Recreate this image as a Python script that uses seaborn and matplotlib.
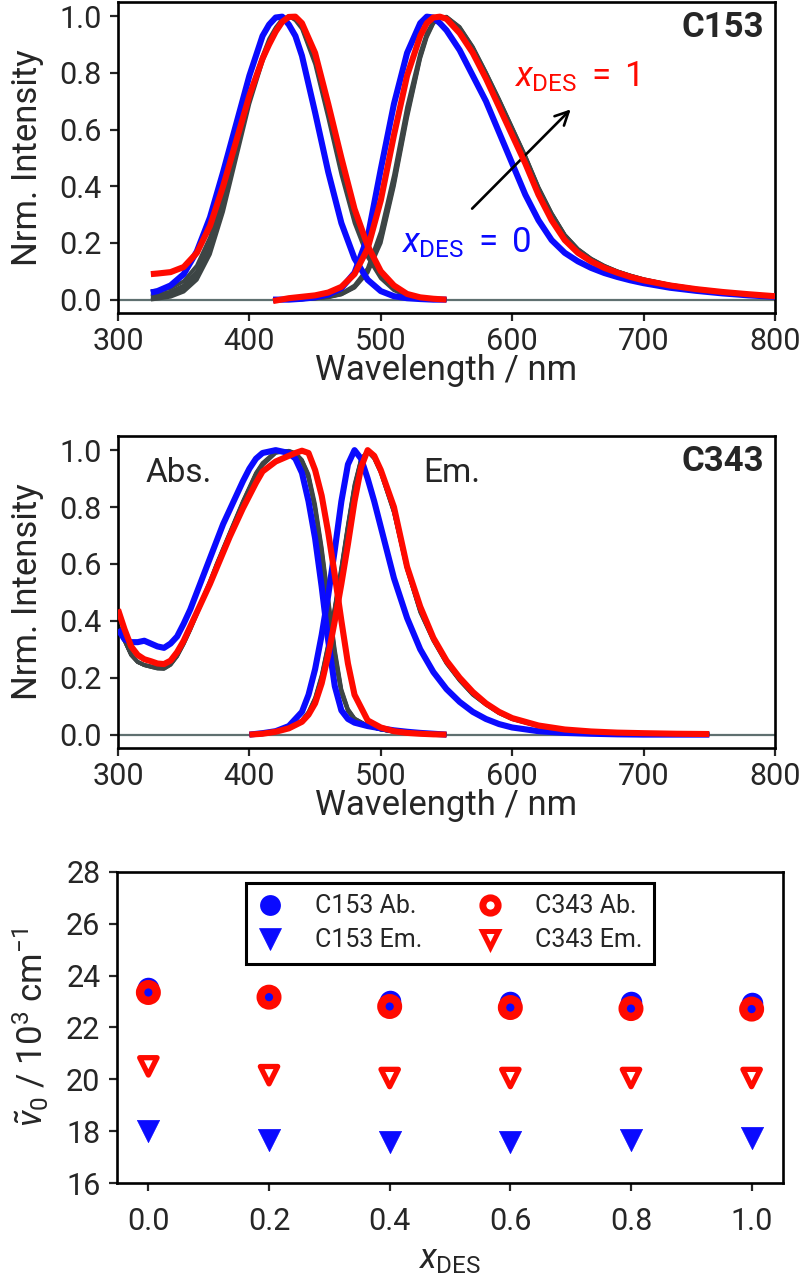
import numpy as np
import pandas as pd
import matplotlib
matplotlib.use("Agg")
import matplotlib.pyplot as plt
from matplotlib.lines import Line2D
import seaborn as sns

# ---------------- data ----------------
# C153 absorption
c153_abs_wl = [325, 330, 340, 350, 360, 370, 380, 390, 400, 410, 415, 420, 425, 430, 435,
               440, 450, 460, 470, 480, 490, 500, 510, 520, 530, 540, 550]
c153_abs_x00 = [0.025, 0.03, 0.05, 0.09, 0.17, 0.29, 0.45, 0.62, 0.79, 0.93, 0.97, 0.995, 0.998, 0.97, 0.93,
                0.86, 0.66, 0.45, 0.27, 0.145, 0.07, 0.03, 0.012, 0.005, 0.002, 0.0, 0.0]
c153_abs_x02 = [0.03, 0.032, 0.04, 0.065, 0.12, 0.22, 0.37, 0.55, 0.72, 0.86, 0.92, 0.96, 0.99, 1.0, 0.985,
                0.955, 0.83, 0.64, 0.44, 0.27, 0.15, 0.075, 0.033, 0.013, 0.005, 0.001, 0.0]
c153_abs_x04 = [0.015, 0.018, 0.028, 0.05, 0.10, 0.20, 0.35, 0.53, 0.71, 0.85, 0.91, 0.955, 0.985, 0.999, 0.99,
                0.96, 0.84, 0.655, 0.455, 0.285, 0.16, 0.08, 0.036, 0.014, 0.005, 0.001, 0.0]
c153_abs_x06 = [0.01, 0.012, 0.02, 0.04, 0.085, 0.18, 0.33, 0.52, 0.70, 0.845, 0.905, 0.95, 0.98, 0.998, 0.995,
                0.965, 0.85, 0.665, 0.465, 0.29, 0.165, 0.083, 0.038, 0.015, 0.005, 0.001, 0.0]
c153_abs_x08 = [0.0, 0.003, 0.01, 0.028, 0.07, 0.16, 0.31, 0.50, 0.69, 0.84, 0.90, 0.945, 0.978, 0.997, 0.997,
                0.97, 0.855, 0.675, 0.475, 0.30, 0.17, 0.087, 0.04, 0.016, 0.006, 0.001, 0.0]
c153_abs_x10 = [0.09, 0.092, 0.097, 0.115, 0.165, 0.26, 0.40, 0.56, 0.72, 0.85, 0.90, 0.945, 0.98, 0.997, 0.998,
                0.975, 0.87, 0.69, 0.50, 0.32, 0.19, 0.10, 0.05, 0.02, 0.008, 0.003, 0.0]

# C153 emission
c153_em_wl = [418, 430, 440, 450, 460, 470, 480, 490, 500, 510, 520, 530, 535, 540, 545, 550,
              560, 570, 580, 590, 600, 610, 620, 630, 640, 650, 660, 670, 680, 690, 700,
              720, 740, 760, 780, 800]
c153_em_x00 = [0.0, 0.0, 0.003, 0.008, 0.018, 0.04, 0.095, 0.22, 0.46, 0.69, 0.87, 0.975, 0.998, 0.995, 0.975, 0.95,
               0.88, 0.79, 0.70, 0.59, 0.48, 0.37, 0.28, 0.21, 0.165, 0.135, 0.112, 0.094, 0.08, 0.068, 0.058,
               0.042, 0.031, 0.022, 0.015, 0.01]
c153_em_x02 = [0.0, 0.0, 0.002, 0.005, 0.01, 0.022, 0.05, 0.11, 0.24, 0.44, 0.68, 0.87, 0.94, 0.98, 0.998, 0.995,
               0.955, 0.885, 0.795, 0.70, 0.60, 0.50, 0.39, 0.30, 0.225, 0.175, 0.142, 0.117, 0.098, 0.083, 0.07,
               0.051, 0.037, 0.027, 0.019, 0.012]
c153_em_x04 = [0.0, 0.0, 0.002, 0.005, 0.01, 0.02, 0.046, 0.105, 0.22, 0.42, 0.66, 0.86, 0.935, 0.978, 0.997, 0.996,
               0.958, 0.888, 0.798, 0.703, 0.603, 0.503, 0.393, 0.302, 0.227, 0.177, 0.143, 0.118, 0.099, 0.084, 0.071,
               0.052, 0.038, 0.027, 0.019, 0.012]
c153_em_x06 = [0.0, 0.0, 0.001, 0.004, 0.009, 0.019, 0.044, 0.10, 0.21, 0.41, 0.65, 0.855, 0.93, 0.976, 0.996, 0.997,
               0.96, 0.89, 0.80, 0.705, 0.605, 0.505, 0.395, 0.304, 0.228, 0.178, 0.144, 0.119, 0.1, 0.085, 0.072,
               0.052, 0.038, 0.028, 0.019, 0.013]
c153_em_x08 = [0.0, 0.0, 0.001, 0.004, 0.008, 0.018, 0.042, 0.095, 0.20, 0.40, 0.64, 0.85, 0.925, 0.974, 0.995, 0.998,
               0.962, 0.892, 0.802, 0.707, 0.607, 0.507, 0.397, 0.305, 0.229, 0.179, 0.145, 0.12, 0.1, 0.085, 0.072,
               0.053, 0.039, 0.028, 0.02, 0.013]
c153_em_x10 = [-0.005, 0.005, 0.01, 0.015, 0.025, 0.045, 0.09, 0.18, 0.35, 0.58, 0.79, 0.93, 0.975, 0.995, 0.998, 0.99,
               0.94, 0.87, 0.78, 0.68, 0.58, 0.48, 0.37, 0.28, 0.21, 0.165, 0.135, 0.112, 0.095, 0.08, 0.068,
               0.05, 0.037, 0.027, 0.019, 0.012]

# C343 absorption
c343_abs_wl = [300, 305, 310, 315, 320, 325, 330, 335, 340, 345, 350, 355, 360, 365, 370, 375, 380,
               385, 390, 395, 400, 405, 410, 420, 430, 435, 440, 445, 450, 455, 460, 465, 470, 475, 480,
               490, 500, 510, 520, 530, 540, 550]
c343_abs_x00 = [0.37, 0.335, 0.325, 0.325, 0.33, 0.32, 0.31, 0.305, 0.32, 0.345, 0.39, 0.44, 0.50, 0.56, 0.62, 0.68, 0.74,
                0.79, 0.84, 0.89, 0.935, 0.97, 0.99, 1.0, 0.99, 0.97, 0.92, 0.82, 0.69, 0.52, 0.33, 0.17, 0.085, 0.055, 0.042,
                0.03, 0.022, 0.015, 0.01, 0.006, 0.003, 0.0]
c343_abs_x02 = [0.38, 0.33, 0.28, 0.255, 0.245, 0.24, 0.235, 0.235, 0.25, 0.28, 0.325, 0.375, 0.43, 0.485, 0.54, 0.60, 0.655,
                0.71, 0.765, 0.82, 0.87, 0.92, 0.955, 0.995, 0.995, 0.985, 0.96, 0.90, 0.79, 0.63, 0.45, 0.27, 0.145, 0.082, 0.053,
                0.03, 0.018, 0.01, 0.006, 0.003, 0.001, 0.0]
c343_abs_x04 = [0.38, 0.33, 0.28, 0.255, 0.245, 0.24, 0.235, 0.233, 0.248, 0.278, 0.322, 0.372, 0.427, 0.482, 0.537, 0.597, 0.652,
                0.707, 0.762, 0.817, 0.867, 0.917, 0.952, 0.993, 0.996, 0.987, 0.962, 0.905, 0.795, 0.64, 0.46, 0.28, 0.15, 0.085, 0.055,
                0.03, 0.018, 0.01, 0.006, 0.003, 0.001, 0.0]
c343_abs_x06 = [0.38, 0.33, 0.28, 0.255, 0.244, 0.238, 0.233, 0.232, 0.246, 0.276, 0.32, 0.37, 0.425, 0.48, 0.535, 0.595, 0.65,
                0.705, 0.76, 0.815, 0.865, 0.915, 0.95, 0.992, 0.997, 0.988, 0.964, 0.91, 0.80, 0.65, 0.47, 0.29, 0.155, 0.088, 0.056,
                0.031, 0.018, 0.01, 0.006, 0.003, 0.001, 0.0]
c343_abs_x08 = [0.385, 0.332, 0.282, 0.256, 0.244, 0.238, 0.232, 0.231, 0.245, 0.275, 0.318, 0.368, 0.423, 0.478, 0.533, 0.593, 0.648,
                0.703, 0.758, 0.813, 0.862, 0.912, 0.947, 0.99, 0.998, 0.99, 0.966, 0.915, 0.81, 0.66, 0.48, 0.30, 0.16, 0.09, 0.057,
                0.031, 0.018, 0.01, 0.006, 0.003, 0.001, 0.0]
c343_abs_x10 = [0.44, 0.37, 0.31, 0.28, 0.265, 0.258, 0.25, 0.248, 0.26, 0.29, 0.33, 0.38, 0.43, 0.48, 0.53, 0.585, 0.64,
                0.695, 0.745, 0.795, 0.84, 0.885, 0.925, 0.96, 0.98, 0.99, 0.998, 0.99, 0.93, 0.84, 0.71, 0.56, 0.40, 0.25, 0.14,
                0.05, 0.025, 0.012, 0.006, 0.003, 0.001, 0.0]

# C343 emission
c343_em_wl = [400, 410, 420, 430, 440, 445, 450, 455, 460, 465, 470, 475, 480, 485, 490, 495, 500,
              510, 520, 530, 540, 550, 560, 570, 580, 590, 600, 620, 640, 660, 680, 700, 725, 750]
c343_em_x00 = [0.0, 0.005, 0.012, 0.03, 0.08, 0.14, 0.23, 0.35, 0.49, 0.65, 0.82, 0.95, 1.0, 0.97, 0.90, 0.82, 0.73,
               0.55, 0.41, 0.30, 0.22, 0.16, 0.115, 0.08, 0.055, 0.037, 0.025, 0.012, 0.006, 0.003, 0.001, 0.0, 0.0, 0.0]
c343_em_x02 = [0.0, 0.003, 0.01, 0.022, 0.05, 0.08, 0.13, 0.21, 0.32, 0.45, 0.59, 0.74, 0.88, 0.97, 0.995, 0.97, 0.92,
               0.78, 0.58, 0.43, 0.33, 0.25, 0.19, 0.14, 0.105, 0.075, 0.054, 0.03, 0.017, 0.01, 0.006, 0.004, 0.002, 0.001]
c343_em_x04 = [0.0, 0.003, 0.01, 0.022, 0.049, 0.078, 0.127, 0.205, 0.315, 0.445, 0.585, 0.735, 0.875, 0.968, 0.996, 0.972, 0.922,
               0.782, 0.582, 0.432, 0.332, 0.252, 0.191, 0.141, 0.106, 0.076, 0.055, 0.03, 0.017, 0.01, 0.006, 0.004, 0.002, 0.001]
c343_em_x06 = [0.0, 0.003, 0.01, 0.022, 0.048, 0.076, 0.124, 0.2, 0.31, 0.44, 0.58, 0.73, 0.87, 0.965, 0.997, 0.974, 0.925,
               0.785, 0.585, 0.435, 0.334, 0.254, 0.193, 0.143, 0.107, 0.077, 0.056, 0.031, 0.018, 0.01, 0.006, 0.004, 0.002, 0.001]
c343_em_x08 = [0.0, 0.003, 0.01, 0.022, 0.047, 0.074, 0.12, 0.195, 0.30, 0.43, 0.57, 0.72, 0.86, 0.96, 0.998, 0.976, 0.927,
               0.79, 0.59, 0.44, 0.336, 0.256, 0.195, 0.145, 0.108, 0.078, 0.057, 0.031, 0.018, 0.011, 0.007, 0.004, 0.002, 0.001]
c343_em_x10 = [0.0, 0.003, 0.01, 0.022, 0.045, 0.07, 0.11, 0.18, 0.28, 0.40, 0.53, 0.67, 0.82, 0.94, 1.0, 0.98, 0.93,
               0.80, 0.59, 0.45, 0.34, 0.26, 0.20, 0.15, 0.11, 0.08, 0.058, 0.032, 0.018, 0.011, 0.007, 0.005, 0.003, 0.002]

# Peak positions (bottom panel)
x_des = [0.0, 0.2, 0.4, 0.6, 0.8, 1.0]
c153_ab_nu = [23.52, 23.17, 23.04, 23.00, 22.97, 22.95]
c343_ab_nu = [23.35, 23.17, 22.81, 22.77, 22.73, 22.71]
c153_em_nu = [18.00, 17.66, 17.60, 17.60, 17.66, 17.73]
c343_em_nu = [20.50, 20.16, 20.05, 20.05, 20.05, 20.05]

# ---------------- style ----------------
sns.set_style("ticks")
plt.rcParams["font.family"] = ["Roboto", "DejaVu Sans"]
plt.rcParams["mathtext.fontset"] = "custom"
plt.rcParams["mathtext.rm"] = "Roboto"
plt.rcParams["mathtext.it"] = "Roboto:italic"
plt.rcParams["mathtext.bf"] = "Roboto:bold"
plt.rcParams["axes.linewidth"] = 1.9
plt.rcParams["xtick.major.width"] = 1.6
plt.rcParams["ytick.major.width"] = 1.6
plt.rcParams["xtick.major.size"] = 6
plt.rcParams["ytick.major.size"] = 6
plt.rcParams["xtick.major.pad"] = 4
plt.rcParams["ytick.major.pad"] = 6
plt.rcParams["xtick.direction"] = "out"
plt.rcParams["ytick.direction"] = "out"

BLUE = "#0a0aff"
RED = "#ff0a00"
GRAY = "#3d4545"
BASE = "#5f7070"
TICK_FS = 22
LAB_FS = 25

fig = plt.figure(figsize=(8.0, 12.81), dpi=100)
ax1 = fig.add_axes([0.1475, 0.7557, 0.82125, 0.2428])
ax2 = fig.add_axes([0.1475, 0.4161, 0.82125, 0.2436])
ax3 = fig.add_axes([0.14625, 0.0765, 0.8325, 0.2428])


def draw_set(ax, wl, curves):
    n = len(curves)
    for i, vals in enumerate(curves):
        if i == 0:
            col, lw, z = BLUE, 4.4, 3
        elif i == n - 1:
            col, lw, z = RED, 4.4, 4
        else:
            col, lw, z = GRAY, 2.7, 2
        sns.lineplot(x=wl, y=vals, ax=ax, color=col, lw=lw, zorder=z,
                     sort=False, estimator=None, legend=False,
                     solid_capstyle="butt", solid_joinstyle="round")


for ax in (ax1, ax2):
    ax.axhline(0, color=BASE, lw=1.6, zorder=1)

draw_set(ax1, c153_abs_wl, [c153_abs_x00, c153_abs_x02, c153_abs_x04, c153_abs_x06, c153_abs_x08, c153_abs_x10])
draw_set(ax1, c153_em_wl, [c153_em_x00, c153_em_x02, c153_em_x04, c153_em_x06, c153_em_x08, c153_em_x10])
draw_set(ax2, c343_abs_wl, [c343_abs_x00, c343_abs_x02, c343_abs_x04, c343_abs_x06, c343_abs_x08, c343_abs_x10])
draw_set(ax2, c343_em_wl, [c343_em_x00, c343_em_x02, c343_em_x04, c343_em_x06, c343_em_x08, c343_em_x10])

for ax in (ax1, ax2):
    ax.set_xlim(300, 800)
    ax.set_ylim(-0.047, 1.05)
    ax.set_xticks([300, 400, 500, 600, 700, 800])
    ax.set_yticks([0.0, 0.2, 0.4, 0.6, 0.8, 1.0])
    ax.set_yticklabels(["0.0", "0.2", "0.4", "0.6", "0.8", "1.0"])
    ax.tick_params(labelsize=TICK_FS)
    ax.set_xlabel("Wavelength / nm", fontsize=LAB_FS, labelpad=-1)
    ax.set_ylabel("Nrm. Intensity", fontsize=LAB_FS, labelpad=11)

ax1.text(792, 0.96, "C153", ha="right", va="center", fontsize=25, fontweight="bold")
ax1.text(601, 0.785, r"$x_{\mathrm{DES}}\;=\;1$", color=RED, ha="left", va="center", fontsize=25)
ax1.text(515, 0.2, r"$x_{\mathrm{DES}}\;=\;0$", color=BLUE, ha="left", va="center", fontsize=25)
ax1.annotate("", xy=(646, 0.678), xytext=(568, 0.314),
             arrowprops=dict(arrowstyle="->", color="black", lw=1.9, mutation_scale=24))

ax2.text(792, 0.96, "C343", ha="right", va="center", fontsize=25, fontweight="bold")
ax2.text(321, 0.92, "Abs.", ha="left", va="center", fontsize=24)
ax2.text(532, 0.92, "Em.", ha="left", va="center", fontsize=24)

# bottom panel
sns.scatterplot(x=x_des, y=c153_ab_nu, ax=ax3, marker="o", s=15.5 ** 2, color=BLUE,
                edgecolor=BLUE, linewidth=0, zorder=3, legend=False)
sns.scatterplot(x=x_des, y=c343_ab_nu, ax=ax3, marker="o", s=12 ** 2, color=RED,
                facecolor="none", edgecolor=RED, linewidth=6, zorder=4, legend=False)
sns.scatterplot(x=x_des, y=c153_em_nu, ax=ax3, marker="v", s=16 ** 2, color=BLUE,
                edgecolor=BLUE, linewidth=0.5, zorder=3, legend=False)
sns.scatterplot(x=x_des, y=c343_em_nu, ax=ax3, marker="v", s=12.5 ** 2, color=RED,
                facecolor="none", edgecolor=RED, linewidth=3.8, zorder=4, legend=False)

ax3.set_xlim(-0.052, 1.052)
ax3.set_ylim(16, 28)
ax3.set_xticks(x_des)
ax3.set_xticklabels(["0.0", "0.2", "0.4", "0.6", "0.8", "1.0"])
ax3.set_yticks([16, 18, 20, 22, 24, 26, 28])
ax3.tick_params(labelsize=TICK_FS)
ax3.tick_params(axis="x", pad=11)
ax3.set_xlabel(r"$x_{\mathrm{DES}}$", fontsize=LAB_FS, labelpad=5)
ax3.set_ylabel(r"$\tilde{\nu}_0$ / 10$^3$ cm$^{-1}$", fontsize=LAB_FS, labelpad=11)

handles = [
    Line2D([], [], ls="none", marker="o", ms=15, color=BLUE, mew=0),
    Line2D([], [], ls="none", marker="v", ms=16, color=BLUE, mew=0.5),
    Line2D([], [], ls="none", marker="o", ms=11, mfc="none", mec=RED, mew=5),
    Line2D([], [], ls="none", marker="v", ms=11.5, mfc="none", mec=RED, mew=3.6),
]
labels = ["C153 Ab.", "C153 Em.", "C343 Ab.", "C343 Em."]
leg = ax3.legend(handles, labels, loc="upper center", ncol=2, fontsize=18,
                 frameon=True, fancybox=False, handlelength=1.0, handletextpad=1.3,
                 columnspacing=2.2, borderaxespad=0.45, labelspacing=0.4, borderpad=0.45)
leg.get_frame().set_edgecolor("black")
leg.get_frame().set_linewidth(2.2)
leg.get_frame().set_alpha(1)

for ax in (ax1, ax2, ax3):
    for sp in ax.spines.values():
        sp.set_visible(True)
        sp.set_color("black")

fig.savefig("out.png", dpi=100)
